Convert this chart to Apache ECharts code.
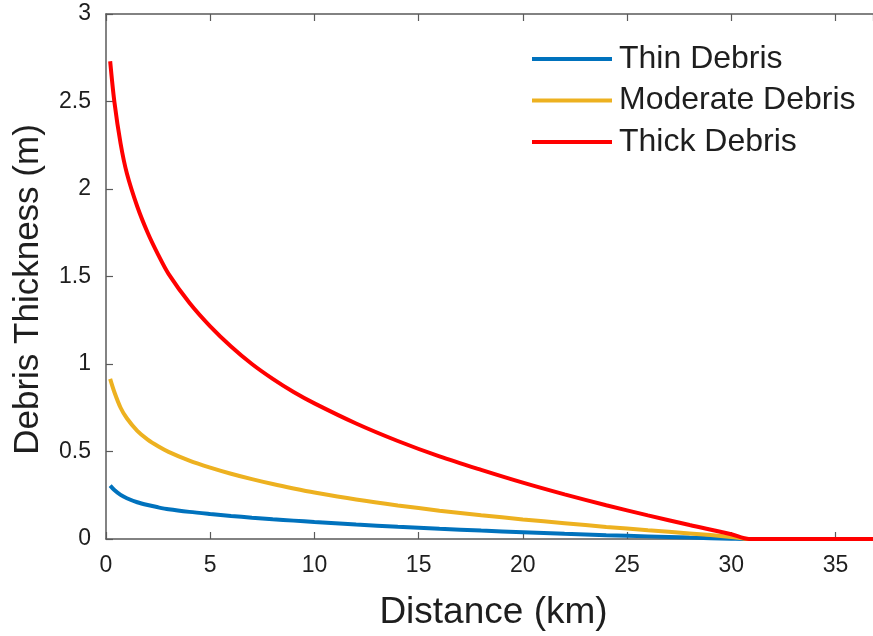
<!DOCTYPE html>
<html>
<head>
<meta charset="utf-8">
<script src="https://cdn.jsdelivr.net/npm/echarts@6/dist/echarts.min.js"></script>
<style>
  html, body { margin: 0; padding: 0; background: #ffffff; }
  #chart { width: 873px; height: 636px; }
</style>
</head>
<body>
<div id="chart"></div>
<script>
// Distance along the glacier (km)
const distanceKm = [0.2, 0.4, 0.7, 1, 1.5, 2, 2.5, 3, 4, 5, 6, 7, 8, 9, 10, 12, 14, 16, 18, 20, 22, 24, 26, 28, 30, 30.85, 36.8];

// Debris thickness (m) for each scenario
const thinDebris     = [0.305, 0.28, 0.252, 0.233, 0.21, 0.194, 0.181, 0.17, 0.155, 0.143, 0.132, 0.122, 0.113, 0.105, 0.097, 0.083, 0.07, 0.058, 0.048, 0.039, 0.03, 0.022, 0.015, 0.008, 0.002, 0, 0];
const moderateDebris = [0.915, 0.84, 0.75, 0.69, 0.618, 0.568, 0.53, 0.498, 0.448, 0.408, 0.373, 0.342, 0.314, 0.289, 0.266, 0.226, 0.192, 0.162, 0.136, 0.112, 0.09, 0.069, 0.05, 0.032, 0.012, 0, 0];
const thickDebris    = [2.73, 2.5, 2.26, 2.09, 1.9, 1.75, 1.625, 1.515, 1.35, 1.215, 1.1, 1.0, 0.915, 0.84, 0.775, 0.66, 0.56, 0.472, 0.395, 0.322, 0.255, 0.193, 0.135, 0.08, 0.027, 0, 0];

const seriesNames = ['Thin Debris', 'Moderate Debris', 'Thick Debris'];
const seriesColors = ['#0072BD', '#EDB120', '#FF0000'];
const xTicks = [0, 5, 10, 15, 20, 25, 30, 35];

const pairs = ys => distanceKm.map((x, i) => [x, ys[i]]);

const axisColor = '#5a5a5a';
const textColor = '#1e1e1e';
const font = 'Liberation Sans, Arial, Helvetica, sans-serif';

const chart = echarts.init(document.getElementById('chart'));
chart.setOption({
  animation: false,
  backgroundColor: '#ffffff',
  grid: { left: 106, top: 14, right: 0, bottom: 94 },
  legend: {
    orient: 'vertical',
    left: 527,
    top: 38,
    icon: 'path://M0,0H80V4H0Z',
    itemWidth: 80,
    itemHeight: 4,
    itemGap: 9.5,
    data: seriesNames,
    textStyle: { fontFamily: font, fontSize: 32, color: textColor, padding: [0, 0, 0, 2] }
  },
  xAxis: [{
    type: 'value',
    min: 0,
    max: 36.8,
    interval: 5,
    name: 'Distance (km)',
    nameLocation: 'middle',
    nameGap: 55,
    nameTextStyle: { fontFamily: font, fontSize: 37, color: textColor, padding: [0, 0, 0, 8] },
    axisLine: { show: true, lineStyle: { color: axisColor, width: 1.5 } },
    axisTick: { show: true, inside: true, length: 7, lineStyle: { color: axisColor, width: 1.2 } },
    axisLabel: {
      fontFamily: font, fontSize: 23, color: textColor, margin: 15,
      showMaxLabel: false,
      formatter: v => (xTicks.indexOf(v) >= 0 ? String(v) : '')
    },
    splitLine: { show: false }
  }, {
    type: 'value',
    position: 'top',
    min: 0,
    max: 36.8,
    interval: 5,
    axisLine: { show: true, lineStyle: { color: axisColor, width: 1.5 } },
    axisTick: { show: true, inside: true, length: 7, lineStyle: { color: axisColor, width: 1.2 } },
    axisLabel: { show: false },
    splitLine: { show: false }
  }],
  yAxis: {
    type: 'value',
    min: 0,
    max: 3,
    interval: 0.5,
    name: 'Debris Thickness (m)',
    nameLocation: 'middle',
    nameGap: 60,
    nameTextStyle: { fontFamily: font, fontSize: 35, color: textColor, padding: [0, 26, 0, 0] },
    axisLine: { show: true, lineStyle: { color: axisColor, width: 1.5 } },
    axisTick: { show: true, inside: true, length: 7, lineStyle: { color: axisColor, width: 1.2 } },
    axisLabel: { fontFamily: font, fontSize: 23, color: textColor, margin: 15 },
    splitLine: { show: false }
  },
  series: [thinDebris, moderateDebris, thickDebris].map((ys, i) => ({
    name: seriesNames[i],
    type: 'line',
    data: pairs(ys),
    smooth: 0.3,
    symbol: 'none',
    clip: false,
    color: seriesColors[i],
    lineStyle: { color: seriesColors[i], width: 4 }
  }))
});
</script>
</body>
</html>
